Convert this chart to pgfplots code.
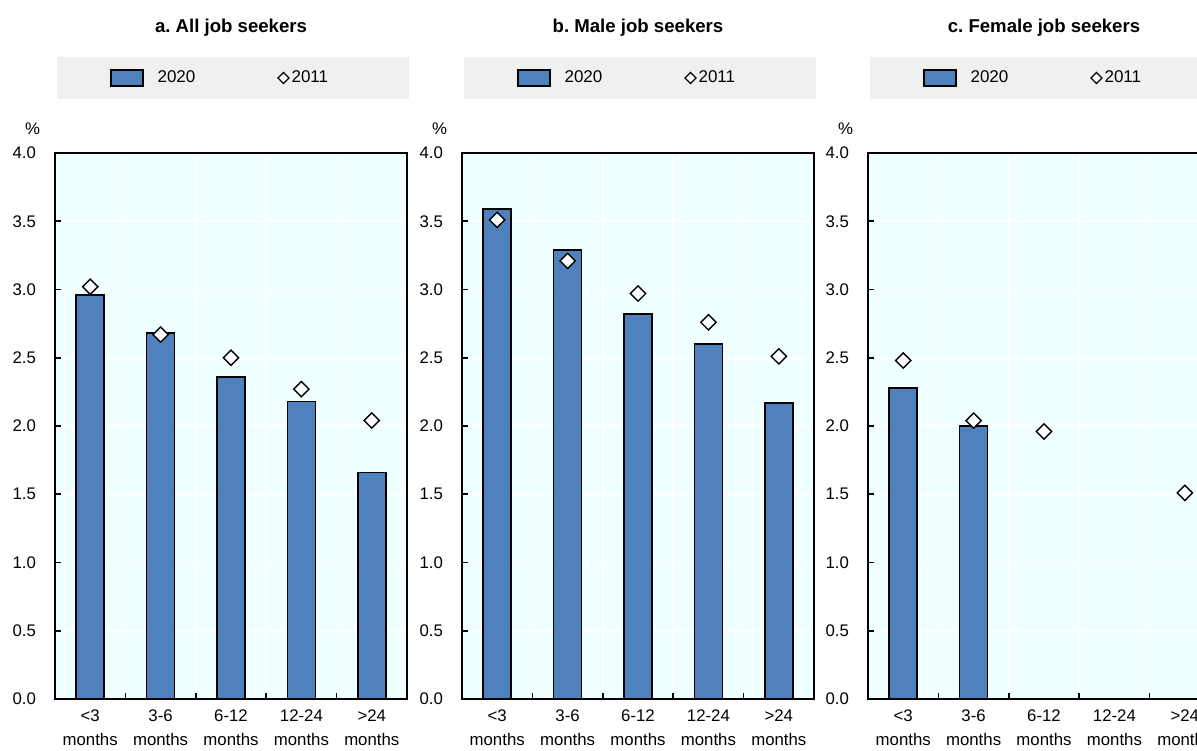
\documentclass[border=0pt]{standalone}
\usepackage{pgfplots}
\pgfplotsset{compat=1.18}
\usepackage{fontspec}
\setmainfont{Liberation Sans}
\frenchspacing

\definecolor{barblue}{HTML}{4F81BD}
\definecolor{plotbg}{HTML}{F0FFFF}
\definecolor{legbg}{HTML}{F0F0F0}

\pgfplotsset{
  panel/.style={
    scale only axis, width=176pt, height=273pt,
    xmin=0.5, xmax=5.5, ymin=0, ymax=4,
    axis background/.style={fill=plotbg},
    axis line style={black, line width=1pt},
    clip=false,
    xtick={1,2,3,4,5},
    xticklabels={{<3\\months},{3-6\\months},{6-12\\months},{12-24\\months},{>24\\months}},
    minor xtick={1.5,2.5,3.5,4.5},
    major x tick style={draw=none},
    minor tick length=3pt, major tick length=3pt,
    tick align=inside, tick pos=left,
    tick style={black, line width=0.8pt},
    ytick={0,0.5,...,4},
    ymajorgrids, minor x grid style={white, line width=0.8pt},
    xminorgrids, major grid style={white, line width=0.8pt},
    /pgf/number format/fixed, /pgf/number format/fixed zerofill,
    /pgf/number format/precision=1, /pgf/number format/assume math mode=true,
    tick label style={font=\fontsize{8.4}{12}\selectfont},
    xticklabel style={align=center, yshift=-2pt},
    yticklabel style={xshift=-6pt},
    legend style={at={(axis description cs:0.155,1.1374)}, anchor=west,
      draw=none, fill=none, legend columns=2, inner sep=0pt,
      font=\fontsize{8.5}{10}\selectfont,
      nodes={inner xsep=1pt},
      /tikz/every even column/.append style={column sep=40pt}},
  },
  bars/.style={ybar, bar width=14pt, fill=barblue, draw=black, line width=0.8pt,
    area legend,
    legend image code/.code={\draw[fill=barblue, draw=black, line width=0.8pt] (0pt,-4pt) rectangle (16pt,4pt); \path (22pt,0pt);}},
  dots/.style={only marks, mark=square*, mark size=2.7pt,
    mark options={rotate=45, fill=white, draw=black, line width=0.7pt},
    legend image code/.code={\draw[fill=white, draw=black, line width=0.6pt] (0pt,0pt) -- (2.75pt,2.75pt) -- (5.5pt,0pt) -- (2.75pt,-2.75pt) -- cycle;}},
}

\newcommand{\paneldeco}[1]{%
  \fill[legbg] (axis description cs:0.005,1.0989) rectangle (axis description cs:1.006,1.1758);
  \node[font=\bfseries\fontsize{9.3}{11}\selectfont] at (axis description cs:0.5,1.229) {#1};
  \node[font=\fontsize{8.4}{10}\selectfont] at (axis description cs:-0.064,1.044) {\%};
}

\begin{document}
\begin{tikzpicture}
\begin{axis}[panel, at={(27.5pt,-349.5pt)}, anchor=south west]
\paneldeco{a. All job seekers}
\addplot[bars] coordinates {(1,2.96) (2,2.68) (3,2.36) (4,2.18) (5,1.66)};
\addplot[dots] coordinates {(1,3.02) (2,2.67) (3,2.50) (4,2.27) (5,2.04)};
\legend{2020,2011}
\end{axis}
\begin{axis}[panel, at={(231pt,-349.5pt)}, anchor=south west]
\paneldeco{b. Male job seekers}
\addplot[bars] coordinates {(1,3.59) (2,3.29) (3,2.82) (4,2.60) (5,2.17)};
\addplot[dots] coordinates {(1,3.51) (2,3.21) (3,2.97) (4,2.76) (5,2.51)};
\legend{2020,2011}
\end{axis}
\begin{axis}[panel, at={(434pt,-349.5pt)}, anchor=south west]
\paneldeco{c. Female job seekers}
\addplot[bars] coordinates {(1,2.28) (2,2.00)};
\addplot[dots] coordinates {(1,2.48) (2,2.04) (3,1.96) (5,1.51)};
\legend{2020,2011}
\end{axis}
\pgfresetboundingbox
\useasboundingbox (0pt,0pt) rectangle (598.5pt,-375pt);
\end{tikzpicture}
\end{document}
